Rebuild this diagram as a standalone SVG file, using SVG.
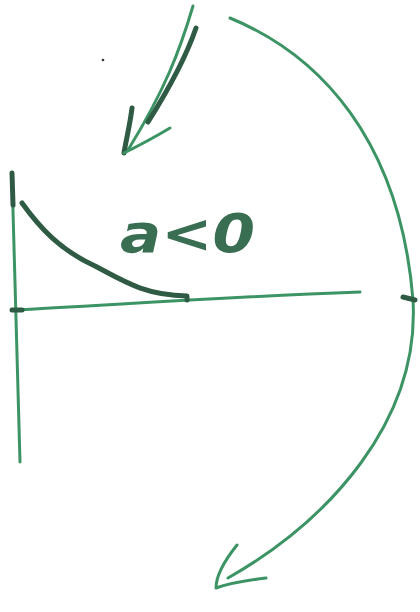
<svg xmlns="http://www.w3.org/2000/svg" width="420" height="612" viewBox="0 0 420 612">
<style>
.thin{fill:none;stroke:#3c9464;stroke-width:3;stroke-linecap:round;stroke-linejoin:round}
.thick{fill:none;stroke:#2f5a44;stroke-width:5;stroke-linecap:round;stroke-linejoin:round}
.lbl{font-family:"DejaVu Sans",sans-serif;font-style:italic;font-weight:bold;fill:#3a6e53}
</style>
<rect width="420" height="612" fill="#fff"/>
<g id="connectors">
<path class="thin" d="M193,6 C180,50 165,90 128,150" stroke="#6fa688" stroke-width="2"/>
<path class="thick" d="M196,28 C185,60 165,95 148,122" stroke="#2b2b2b"/>
<path class="thick" d="M132,108 C130,125 126,140 124,153" stroke="#222"/>
<path class="thin" d="M124,153 C140,145 155,137 170,128" stroke="#4a7d62" stroke-width="4"/>
<path class="thin" d="M230,18 C320,55 400,140 413,300 C420,420 330,520 228,578"/>
<path class="thin" d="M237,545 C225,560 216,575 216,588 C230,583 250,580 266,578" stroke="#3a8a5e" stroke-width="4"/>
</g>
<g id="axes">
<path class="thin" d="M12,175 C14,260 17,360 20,462"/>
<path class="thick" d="M12,173 L13,205" stroke="#2f4f40"/>
<path class="thin" d="M12,310 C100,306 200,298 360,292"/>
<path class="thick" d="M12,310 L22,310" stroke="#2f4f40"/>
<path class="thick" d="M22,203 C40,228 60,250 95,266 C125,282 145,295 187,296 L187,300"/>
<path class="thick" d="M403,297 L415,300" stroke="#2f5a44" stroke-width="3"/>
<circle cx="103" cy="60" r="1.3" fill="#333"/>
</g>
<g id="label">
<text class="lbl" x="120" y="252" font-size="54" textLength="135" lengthAdjust="spacingAndGlyphs">a&lt;0</text>
</g>
</svg>
